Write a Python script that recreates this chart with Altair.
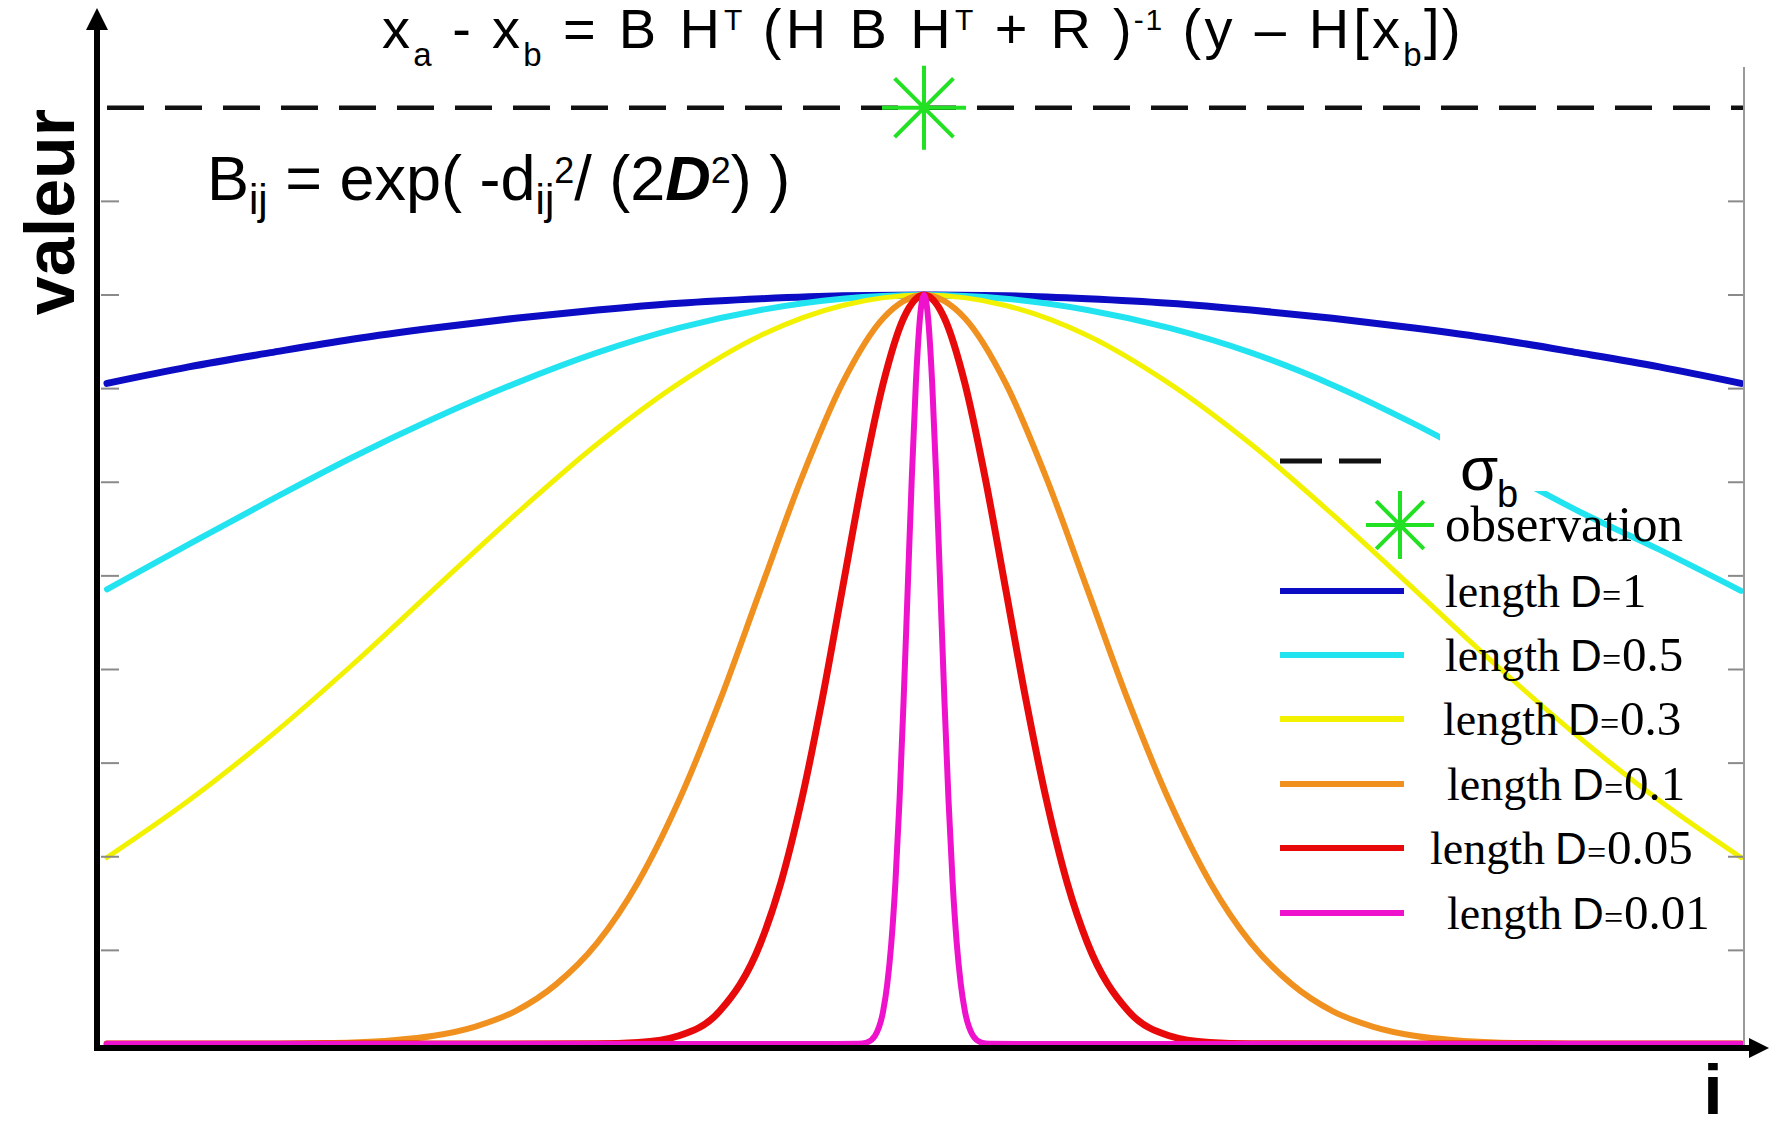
import altair as alt
import pandas as pd

# ------------------------------------------------------------------ data
SERIES = ["D=1", "D=0.5", "D=0.3", "D=0.1", "D=0.05", "D=0.01"]
LEGEND_VALUES = ["1", "0.5", "0.3", "0.1", "0.05", "0.01"]
COLORS = ["#0c0cc4", "#22e3f0", "#f2f200", "#f0901e", "#e80a0a", "#ee12cc"]

X_WIDE = [0.0, 0.05, 0.1, 0.15, 0.2, 0.25, 0.3, 0.35, 0.4, 0.45, 0.5,
          0.55, 0.6, 0.65, 0.7, 0.75, 0.8, 0.85, 0.9, 0.95, 1.0]
Y_D1 = [0.882, 0.904, 0.923, 0.941, 0.956, 0.969, 0.980, 0.989, 0.995, 0.999, 1.0,
        0.999, 0.995, 0.989, 0.980, 0.969, 0.956, 0.941, 0.923, 0.904, 0.882]
Y_D05 = [0.607, 0.667, 0.726, 0.783, 0.835, 0.882, 0.923, 0.956, 0.980, 0.995, 1.0,
         0.995, 0.980, 0.956, 0.923, 0.880, 0.828, 0.770, 0.712, 0.660, 0.605]
Y_D03 = [0.249, 0.325, 0.411, 0.506, 0.607, 0.707, 0.801, 0.882, 0.946, 0.986, 1.0,
         0.986, 0.946, 0.882, 0.801, 0.707, 0.607, 0.506, 0.411, 0.325, 0.249]

X_D01 = [0.0, 0.025, 0.05, 0.075, 0.1, 0.125, 0.15, 0.175, 0.2, 0.225, 0.25,
         0.275, 0.3, 0.325, 0.35, 0.375, 0.4, 0.425, 0.45, 0.475, 0.5,
         0.525, 0.55, 0.575, 0.6, 0.625, 0.65, 0.675, 0.7, 0.725, 0.75,
         0.775, 0.8, 0.825, 0.85, 0.875, 0.9, 0.925, 0.95, 0.975, 1.0]
Y_D01 = [0.0, 0.0, 0.0, 0.0, 0.0, 0.001, 0.002, 0.005, 0.011, 0.023, 0.044,
         0.080, 0.135, 0.216, 0.325, 0.458, 0.607, 0.755, 0.882, 0.969, 1.0,
         0.969, 0.882, 0.755, 0.607, 0.458, 0.325, 0.216, 0.135, 0.080, 0.044,
         0.023, 0.011, 0.005, 0.002, 0.001, 0.0, 0.0, 0.0, 0.0, 0.0]

X_D005 = [0.0, 0.2, 0.3, 0.325, 0.35, 0.375, 0.4, 0.4125, 0.425, 0.4375, 0.45,
          0.4625, 0.475, 0.4875, 0.5, 0.5125, 0.525, 0.5375, 0.55, 0.5625, 0.575,
          0.5875, 0.6, 0.625, 0.65, 0.675, 0.7, 0.8, 1.0]
Y_D005 = [0.0, 0.0, 0.0003, 0.002, 0.011, 0.044, 0.135, 0.216, 0.325, 0.458, 0.607,
          0.755, 0.882, 0.969, 1.0, 0.969, 0.882, 0.755, 0.607, 0.458, 0.325,
          0.216, 0.135, 0.044, 0.011, 0.002, 0.0003, 0.0, 0.0]

X_D0001 = [0.0, 0.44, 0.46, 0.465, 0.47, 0.475, 0.4775, 0.48, 0.4825, 0.485, 0.4875,
           0.49, 0.4925, 0.495, 0.4975, 0.5, 0.5025, 0.505, 0.5075, 0.51, 0.5125,
           0.515, 0.5175, 0.52, 0.5225, 0.525, 0.53, 0.535, 0.54, 0.56, 1.0]
Y_D0001 = [0.0, 0.0, 0.0003, 0.002, 0.011, 0.044, 0.080, 0.135, 0.216, 0.325, 0.458,
           0.607, 0.755, 0.882, 0.969, 1.0, 0.969, 0.882, 0.755, 0.607, 0.458,
           0.325, 0.216, 0.135, 0.080, 0.044, 0.011, 0.002, 0.0003, 0.0, 0.0]

CURVES_X = [X_WIDE, X_WIDE, X_WIDE, X_D01, X_D005, X_D0001]
CURVES_Y = [Y_D1, Y_D05, Y_D03, Y_D01, Y_D005, Y_D0001]

SIGMA_B = 1.25
OBS_X = [0.5]
OBS_Y = [1.25]
TICKS = [0.125, 0.25, 0.375, 0.5, 0.625, 0.75, 0.875, 1.0, 1.125]

# ------------------------------------------------------------------ layout
W, H = 1646, 982
PAD = {"left": 90, "top": 59, "right": 25, "bottom": 68}
OX, OY = 8 + PAD["left"], 8 + PAD["top"]


def PX(v):
    return v - OX


def PY(v):
    return v - OY


XS = alt.Scale(domain=[-0.0055, 1.0018], nice=False, zero=False)
YS = alt.Scale(domain=[-0.00668, 1.3044], nice=False, zero=False)
SANS = "Liberation Sans, Arial, Helvetica, sans-serif"
SERIF = "Liberation Serif, Times New Roman, Times, serif"
ONE = pd.DataFrame({"k": [0]})
STAR = "M-1,0L1,0M0,-1L0,1M-0.7,-0.7L0.7,0.7M-0.7,0.7L0.7,-0.7"
GREEN = "#22e022"

ARIAL_W = {" ": 278, "(": 333, ")": 333, "+": 584, "-": 333, "/": 278, "=": 584,
           "[": 278, "]": 278, "B": 667, "D": 722, "H": 722, "R": 722, "T": 611,
           "a": 556, "b": 556, "d": 556, "e": 556, "i": 222, "j": 222, "p": 556,
           "x": 500, "y": 500, "\u2013": 556}
for _c in "0123456789":
    ARIAL_W[_c] = 556


def tw(s, size):
    return sum(ARIAL_W.get(c, 556) for c in s) * size / 1000.0


def text(s, x, y, size, font=SANS, weight="normal", style="normal",
         align="left", angle=0, color="black"):
    return alt.Chart(ONE).mark_text(
        font=font, fontSize=size, fontWeight=weight, fontStyle=style,
        align=align, baseline="alphabetic", angle=angle, color=color,
    ).encode(x=alt.value(PX(x)), y=alt.value(PY(y)), text=alt.value(s))


def rich(pieces, x0, base, size, sub_size, sub_base, sup_size, sup_base):
    out = []
    x = x0
    for s, kind in pieces:
        if kind == "sub":
            fs, yb = sub_size, sub_base
        elif kind == "sup":
            fs, yb = sup_size, sup_base
        else:
            fs, yb = size, base
        lead = len(s) - len(s.lstrip(" "))
        core = s.strip(" ")
        if kind == "bi":
            out.append(text(core, x + tw(" " * lead, fs), yb, fs,
                            weight="bold", style="italic"))
        else:
            out.append(text(core, x + tw(" " * lead, fs), yb, fs))
        x += tw(s, fs)
    return out


def rich_stretched(pieces, x0, x1, base, size, sub_size, sub_base, sup_size, sup_base):
    """Lay the formula out glyph by glyph, spreading it to span x0..x1."""
    def fs_of(kind):
        return sub_size if kind == "sub" else sup_size if kind == "sup" else size

    natural = sum(tw(s, fs_of(k)) for s, k in pieces)
    k_st = (x1 - x0) / natural
    out = []
    x = x0
    for s, kind in pieces:
        fs = fs_of(kind)
        yb = sub_base if kind == "sub" else sup_base if kind == "sup" else base
        for ch in s:
            adv = tw(ch, fs) * k_st
            if ch != " ":
                out.append(text(ch, x + adv / 2.0, yb, fs, align="center"))
            x += adv
    return out


layers = []

# curves
for name, xs_, ys_, col, sw in zip(SERIES, CURVES_X, CURVES_Y, COLORS,
                                    [7, 6, 5, 6, 7, 6]):
    df = pd.DataFrame({"x": xs_, "y": ys_, "s": name})
    layers.append(
        alt.Chart(df).mark_line(color=col, strokeWidth=sw, interpolate="monotone",
                                strokeCap="round", strokeJoin="round").encode(
            x=alt.X("x:Q", scale=XS, axis=None),
            y=alt.Y("y:Q", scale=YS, axis=None),
        )
    )

# sigma_b dashed line
layers.append(
    alt.Chart(pd.DataFrame({"x": [0.0], "s": [SIGMA_B]})).mark_rule(
        color="#111111", strokeWidth=4.5, strokeDash=[37, 21]).encode(
        x=alt.X("x:Q", scale=XS, axis=None), x2=alt.value(W),
        y=alt.Y("s:Q", scale=YS, axis=None))
)
# observation star
layers.append(
    alt.Chart(pd.DataFrame({"x": OBS_X, "y": OBS_Y})).mark_point(
        shape=STAR, size=84 * 84, filled=False, color=GREEN, strokeWidth=4,
        opacity=1).encode(
        x=alt.X("x:Q", scale=XS, axis=None), y=alt.Y("y:Q", scale=YS, axis=None))
)

# frame, ticks and axes
tick_df = pd.DataFrame({"v": TICKS})
layers.append(alt.Chart(tick_df).mark_rule(color="#8a8a8a", strokeWidth=2).encode(
    y=alt.Y("v:Q", scale=YS, axis=None), x=alt.value(PX(101)), x2=alt.value(PX(119))))
layers.append(alt.Chart(tick_df).mark_rule(color="#8a8a8a", strokeWidth=2).encode(
    y=alt.Y("v:Q", scale=YS, axis=None), x=alt.value(PX(1728)), x2=alt.value(PX(1744))))
layers.append(alt.Chart(ONE).mark_rule(color="#9a9a9a", strokeWidth=2).encode(
    x=alt.value(PX(1744)), y=alt.value(PY(67)), y2=alt.value(PY(1048))))
layers.append(alt.Chart(ONE).mark_rule(color="black", strokeWidth=6).encode(
    x=alt.value(PX(97)), y=alt.value(PY(1051)), y2=alt.value(PY(26))))
layers.append(alt.Chart(ONE).mark_rule(color="black", strokeWidth=6).encode(
    x=alt.value(PX(94)), x2=alt.value(PX(1752)), y=alt.value(PY(1048))))
layers.append(alt.Chart(ONE).mark_point(
    shape="M0,-1L1,1L-1,1Z", size=22 * 22, filled=True, color="black",
    strokeWidth=0, opacity=1).encode(x=alt.value(PX(97)), y=alt.value(PY(19))))
layers.append(alt.Chart(ONE).mark_point(
    shape="M1,0L-1,-1L-1,1Z", size=20 * 20, filled=True, color="black",
    strokeWidth=0, opacity=1).encode(x=alt.value(PX(1759)), y=alt.value(PY(1048))))

# axis labels
layers.append(text("valeur", 74, 212, 70, weight="bold", align="center", angle=270))
layers.append(text("i", 1713, 1114, 70, weight="bold", align="center"))

# title formula (glyphs spread slightly, as in the reference)
title_pieces = [("x", "m"), ("a", "sub"), (" - x", "m"), ("b", "sub"),
                (" = B H", "m"), ("T", "sup"), (" (H B H", "m"), ("T", "sup"),
                (" + R )", "m"), ("-1", "sup"), (" (y \u2013 H[x", "m"), ("b", "sub"),
                ("])", "m")]
layers += rich_stretched(title_pieces, 380, 1462, 48, 56, 33, 66, 30, 30)

# B_ij annotation
ann_pieces = [("B", "m"), ("ij", "sub"), (" = exp( -d", "m"), ("ij", "sub"),
              ("2", "sup"), ("/ (2", "m"), ("D", "bi"), ("2", "sup"), (") )", "m")]
layers += rich(ann_pieces, 207, 200, 63, 42, 214, 36, 183)

# legend
layers.append(alt.Chart(ONE).mark_rect(color="white").encode(
    x=alt.value(PX(1440)), x2=alt.value(PX(1642)),
    y=alt.value(PY(425)), y2=alt.value(PY(491))))
layers.append(alt.Chart(ONE).mark_rule(color="#111111", strokeWidth=5,
                                       strokeDash=[42, 17]).encode(
    x=alt.value(PX(1280)), x2=alt.value(PX(1385)), y=alt.value(PY(461))))
layers.append(text("\u03c3", 1460, 490, 62))
layers.append(text("b", 1497, 507, 38))
layers.append(alt.Chart(ONE).mark_point(
    shape=STAR, size=68 * 68, filled=False, color=GREEN, strokeWidth=4,
    opacity=1).encode(x=alt.value(PX(1400)), y=alt.value(PY(525))))
layers.append(text("observation", 1445, 541, 51, font=SERIF))

ROW_Y = [591, 655, 719, 784, 848, 913]
ROW_X = [1445, 1445, 1443, 1447, 1430, 1447]
for val, col, ry, rx in zip(LEGEND_VALUES, COLORS, ROW_Y, ROW_X):
    layers.append(alt.Chart(ONE).mark_rule(color=col, strokeWidth=6).encode(
        x=alt.value(PX(1280)), x2=alt.value(PX(1404)), y=alt.value(PY(ry))))
    layers.append(text("length", rx, ry + 16, 46, font=SERIF))
    layers.append(text("D", rx + 125, ry + 16, 44))
    layers.append(text("=", rx + 157, ry + 16, 34, font=SERIF))
    layers.append(text(val, rx + 177, ry + 16, 49, font=SERIF))

chart = alt.layer(*layers).properties(
    width=W, height=H, padding=PAD,
    autosize=alt.AutoSizeParams(type="none"),
    background="white",
).configure_view(stroke=None)

chart.save("out.html", embed_options={"renderer": "svg", "actions": False})
